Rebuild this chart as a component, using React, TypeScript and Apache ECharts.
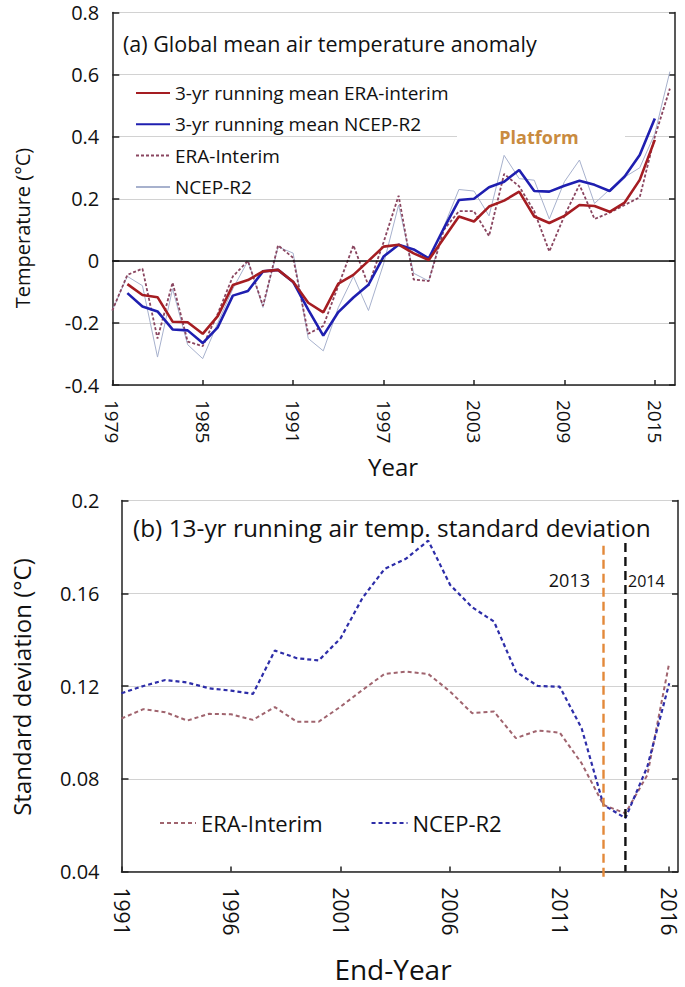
import React, { useEffect, useRef } from "react";
import * as echarts from "echarts";

// ---------- Panel (a) data ----------
const yearsA = [
  1979, 1980, 1981, 1982, 1983, 1984, 1985, 1986, 1987, 1988, 1989, 1990, 1991,
  1992, 1993, 1994, 1995, 1996, 1997, 1998, 1999, 2000, 2001, 2002, 2003, 2004,
  2005, 2006, 2007, 2008, 2009, 2010, 2011, 2012, 2013, 2014, 2015, 2016,
];
const eraAnnual = [
  -0.16, -0.045, -0.025, -0.25, -0.07, -0.26, -0.275, -0.17, -0.05, 0.0, -0.145,
  0.05, 0.01, -0.235, -0.21, -0.08, 0.05, -0.08, 0.06, 0.21, -0.06, -0.065, 0.1,
  0.16, 0.16, 0.08, 0.28, 0.24, 0.16, 0.03, 0.145, 0.245, 0.135, 0.155, 0.18,
  0.205, 0.4, 0.555,
];
const ncepAnnual = [
  -0.16, -0.05, -0.08, -0.31, -0.09, -0.27, -0.315, -0.2, -0.09, 0.0, -0.15,
  0.045, 0.025, -0.25, -0.29, -0.15, -0.05, -0.16, -0.01, 0.18, -0.04, -0.065,
  0.11, 0.23, 0.225, 0.145, 0.34, 0.265, 0.26, 0.135, 0.255, 0.325, 0.185, 0.23,
  0.27, 0.3, 0.41, 0.61,
];
const meanYears = [
  1980, 1981, 1982, 1983, 1984, 1985, 1986, 1987, 1988, 1989, 1990, 1991, 1992,
  1993, 1994, 1995, 1996, 1997, 1998, 1999, 2000, 2001, 2002, 2003, 2004, 2005,
  2006, 2007, 2008, 2009, 2010, 2011, 2012, 2013, 2014, 2015,
];
const eraMean3 = [
  -0.075, -0.11, -0.117, -0.196, -0.198, -0.235, -0.178, -0.078, -0.062, -0.034,
  -0.029, -0.067, -0.135, -0.166, -0.073, -0.045, 0.0, 0.046, 0.052, 0.024, 0.003,
  0.073, 0.143, 0.127, 0.175, 0.194, 0.223, 0.143, 0.122, 0.145, 0.18, 0.177,
  0.158, 0.188, 0.261, 0.39,
];
const ncepMean3 = [
  -0.104, -0.147, -0.163, -0.221, -0.224, -0.265, -0.214, -0.112, -0.097, -0.034,
  -0.029, -0.068, -0.157, -0.241, -0.165, -0.118, -0.077, 0.014, 0.052, 0.037,
  0.008, 0.105, 0.196, 0.2, 0.237, 0.255, 0.293, 0.225, 0.223, 0.242, 0.258,
  0.245, 0.225, 0.272, 0.341, 0.459,
];
const xTicksA = [1979, 1985, 1991, 1997, 2003, 2009, 2015];

// ---------- Panel (b) data ----------
const yearsB = [
  1991, 1992, 1993, 1994, 1995, 1996, 1997, 1998, 1999, 2000, 2001, 2002, 2003,
  2004, 2005, 2006, 2007, 2008, 2009, 2010, 2011, 2012, 2013, 2014, 2015, 2016,
];
const eraSD = [
  0.106, 0.11, 0.1087, 0.1051, 0.108, 0.1078, 0.1054, 0.1109, 0.1046, 0.1046,
  0.1111, 0.1183, 0.1252, 0.1262, 0.1252, 0.1176, 0.1083, 0.109, 0.0975, 0.1008,
  0.0999, 0.0867, 0.0687, 0.0651, 0.0816, 0.13,
];
const ncepSD = [
  0.1169, 0.12, 0.1226, 0.1215, 0.119, 0.118, 0.1166, 0.1353, 0.132, 0.131,
  0.1406, 0.158, 0.1704, 0.175, 0.1827, 0.1636, 0.154, 0.1478, 0.1262, 0.12,
  0.1197, 0.1018, 0.0687, 0.063, 0.0852, 0.1212,
];
const xTicksB = [1991, 1996, 2001, 2006, 2011, 2016];
const markerYears = [2013, 2014];
const markerTops = [0.1805, 0.1817];
const markerBottoms = [0.0375, 0.04];

const FONT = "'Open Sans', 'Noto Sans', sans-serif";
const INK = "#111";
const AXIS = "#222";
const GRID = "#d2d2d2";

const pairs = (xs: number[], ys: number[]) => xs.map((x, i) => [x, ys[i]]);

export default function App() {
  const ref = useRef<HTMLDivElement>(null);

  useEffect(() => {
    if (!ref.current) return;
    const chart = echarts.init(ref.current, null, { renderer: "svg" });

    const xAxisBase = (gridIndex: number, min: number, max: number, ticks: number[], fontSize: number, margin: number) => ({
      type: "value",
      gridIndex,
      min,
      max,
      axisLine: { show: true, onZero: false, lineStyle: { color: AXIS, width: 1.5 } },
      axisTick: { show: true, inside: true, length: 5, customValues: ticks, lineStyle: { color: AXIS, width: 1.5 } },
      axisLabel: {
        customValues: ticks,
        rotate: -90,
        margin,
        fontSize,
        fontFamily: FONT,
        color: INK,
        formatter: (v: number) => String(Math.round(v)),
      },
      splitLine: { show: false },
    });

    const yAxisLeft = (gridIndex: number, min: number, max: number, interval: number, fontSize: number, margin: number) => ({
      type: "value",
      gridIndex,
      min,
      max,
      interval,
      position: "left",
      axisLine: { show: true, onZero: false, lineStyle: { color: AXIS, width: 1.5 } },
      axisTick: { show: true, inside: true, length: 7, lineStyle: { color: AXIS, width: 1.5 } },
      axisLabel: { margin, fontSize, fontFamily: FONT, color: INK },
      splitLine: { show: true, lineStyle: { color: GRID, width: 1 } },
    });

    const yAxisRight = (gridIndex: number, min: number, max: number, interval: number) => ({
      type: "value",
      gridIndex,
      min,
      max,
      interval,
      position: "right",
      axisLine: { show: true, onZero: false, lineStyle: { color: AXIS, width: 1.5 } },
      axisTick: { show: true, inside: true, length: 6, lineStyle: { color: AXIS, width: 1.5 } },
      axisLabel: { show: false },
      splitLine: { show: false },
    });

    const option: any = {
      animation: false,
      backgroundColor: "#ffffff",
      grid: [
        { left: 112.3, top: 12.6, width: 562.7, height: 372.4 },
        { left: 121.5, top: 500.5, width: 556.5, height: 371 },
      ],
      xAxis: [
        xAxisBase(0, 1979, 2016.34, xTicksA, 19, 15),
        xAxisBase(1, 1991, 2016.4, xTicksB, 21, 16),
      ],
      yAxis: [
        yAxisLeft(0, -0.4, 0.8, 0.2, 20, 13),
        yAxisRight(0, -0.4, 0.8, 0.2),
        yAxisLeft(1, 0.04, 0.2, 0.04, 20, 22),
        yAxisRight(1, 0.04, 0.2, 0.04),
      ],
      legend: [
        {
          orient: "vertical",
          left: 130,
          top: 78,
          itemWidth: 34,
          itemHeight: 14,
          itemGap: 11.3,
          selectedMode: false,
          itemStyle: { opacity: 0 },
          data: [
            "3-yr running mean ERA-interim",
            "3-yr running mean NCEP-R2",
            "ERA-Interim",
            "NCEP-R2",
          ],
          textStyle: { fontSize: 19, fontFamily: FONT, color: INK, lineHeight: 20 },
        },
        {
          orient: "horizontal",
          left: 154,
          top: 806,
          itemWidth: 36,
          itemHeight: 14,
          itemGap: 48,
          selectedMode: false,
          itemStyle: { opacity: 0 },
          data: ["ERA-Interim (b)", "NCEP-R2 (b)"],
          formatter: (name: string) => name.replace(" (b)", ""),
          textStyle: { fontSize: 22, fontFamily: FONT, color: INK, lineHeight: 24 },
        },
      ],
      series: [
        {
          name: "NCEP-R2",
          type: "line",
          xAxisIndex: 0,
          yAxisIndex: 0,
          symbol: "none",
          data: pairs(yearsA, ncepAnnual),
          lineStyle: { color: "#a7b1cd", width: 1 },
          itemStyle: { color: "#a7b1cd" },
          z: 2,
          markLine: {
            silent: true,
            symbol: "none",
            label: { show: false },
            lineStyle: { color: "#111", width: 1.6, type: "solid" },
            data: [{ yAxis: 0 }],
          },
        },
        {
          name: "ERA-Interim",
          type: "line",
          xAxisIndex: 0,
          yAxisIndex: 0,
          symbol: "none",
          data: pairs(yearsA, eraAnnual),
          lineStyle: { color: "#8a4660", width: 1.8, type: [3, 2] },
          itemStyle: { color: "#8a4660" },
          z: 3,
        },
        {
          name: "3-yr running mean NCEP-R2",
          type: "line",
          xAxisIndex: 0,
          yAxisIndex: 0,
          symbol: "none",
          data: pairs(meanYears, ncepMean3),
          lineStyle: { color: "#1f1fb0", width: 2.6 },
          itemStyle: { color: "#1f1fb0" },
          z: 4,
        },
        {
          name: "3-yr running mean ERA-interim",
          type: "line",
          xAxisIndex: 0,
          yAxisIndex: 0,
          symbol: "none",
          data: pairs(meanYears, eraMean3),
          lineStyle: { color: "#a51d22", width: 2.6 },
          itemStyle: { color: "#a51d22" },
          z: 5,
        },
        {
          name: "ERA-Interim (b)",
          type: "line",
          xAxisIndex: 1,
          yAxisIndex: 2,
          symbol: "none",
          data: pairs(yearsB, eraSD),
          lineStyle: { color: "#a0646e", width: 2, type: [4, 3] },
          itemStyle: { color: "#a0646e" },
          z: 3,
        },
        {
          name: "NCEP-R2 (b)",
          type: "line",
          xAxisIndex: 1,
          yAxisIndex: 2,
          symbol: "none",
          data: pairs(yearsB, ncepSD),
          lineStyle: { color: "#2d2da8", width: 2.2, type: [4, 3] },
          itemStyle: { color: "#2d2da8" },
          z: 4,
        },
        {
          name: "marker2013",
          type: "line",
          xAxisIndex: 1,
          yAxisIndex: 2,
          symbol: "none",
          clip: false,
          silent: true,
          data: [
            [markerYears[0], markerTops[0]],
            [markerYears[0], markerBottoms[0]],
          ],
          lineStyle: { color: "#e3893a", width: 2.4, type: [9, 5] },
          z: 6,
        },
        {
          name: "marker2014",
          type: "line",
          xAxisIndex: 1,
          yAxisIndex: 2,
          symbol: "none",
          clip: false,
          silent: true,
          data: [
            [markerYears[1], markerTops[1]],
            [markerYears[1], markerBottoms[1]],
          ],
          lineStyle: { color: "#111", width: 2.4, type: [9, 5] },
          z: 6,
        },
      ],
      graphic: [
        {
          type: "text",
          x: 123,
          y: 43,
          style: { text: "(a) Global mean air temperature anomaly", fontSize: 21.5, fontFamily: FONT, fill: INK, textAlign: "left", textVerticalAlign: "middle" },
        },
        {
          type: "rect",
          shape: { x: 457, y: 127, width: 168, height: 20 },
          style: { fill: "#ffffff" },
          z: 10,
        },
        {
          type: "text",
          x: 539,
          y: 137,
          z: 11,
          style: { text: "Platform", fontSize: 18, fontWeight: "bold", fontFamily: FONT, fill: "#c98b40", textAlign: "center", textVerticalAlign: "middle" },
        },
        {
          type: "text",
          x: 22,
          y: 228,
          rotation: Math.PI / 2,
          style: { text: "Temperature (°C)", fontSize: 20, fontFamily: FONT, fill: INK, textAlign: "center", textVerticalAlign: "middle" },
        },
        {
          type: "text",
          x: 393,
          y: 466,
          style: { text: "Year", fontSize: 24, fontFamily: FONT, fill: INK, textAlign: "center", textVerticalAlign: "middle" },
        },
        {
          type: "text",
          x: 133,
          y: 527,
          style: { text: "(b) 13-yr running air temp. standard deviation", fontSize: 24.4, fontFamily: FONT, fill: INK, textAlign: "left", textVerticalAlign: "middle" },
        },
        {
          type: "text",
          x: 590,
          y: 580,
          style: { text: "2013", fontSize: 18, fontFamily: FONT, fill: INK, textAlign: "right", textVerticalAlign: "middle" },
        },
        {
          type: "text",
          x: 628,
          y: 581,
          style: { text: "2014", fontSize: 16, fontFamily: FONT, fill: INK, textAlign: "left", textVerticalAlign: "middle" },
        },
        {
          type: "text",
          x: 21,
          y: 687,
          rotation: Math.PI / 2,
          style: { text: "Standard deviation (°C)", fontSize: 24, fontFamily: FONT, fill: INK, textAlign: "center", textVerticalAlign: "middle" },
        },
        {
          type: "text",
          x: 393,
          y: 969,
          style: { text: "End-Year", fontSize: 28, fontFamily: FONT, fill: INK, textAlign: "center", textVerticalAlign: "middle" },
        },
      ],
    };

    chart.setOption(option);
    return () => chart.dispose();
  }, []);

  return (
    <div
      ref={ref}
      style={{ position: "fixed", left: 0, top: 0, width: 685, height: 987, background: "#fff" }}
    />
  );
}
